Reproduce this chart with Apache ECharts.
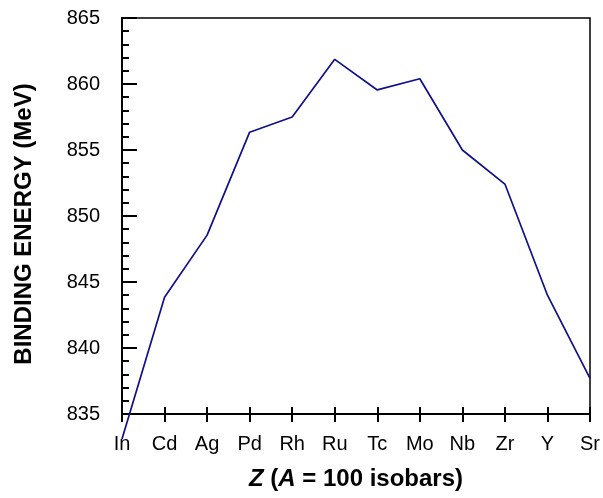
<!DOCTYPE html>
<html>
<head>
<meta charset="utf-8">
<script src="https://cdn.jsdelivr.net/npm/echarts@6/dist/echarts.min.js"></script>
<style>html,body{margin:0;padding:0;background:#fff;}#chart{width:603px;height:498px;}</style>
</head>
<body>
<div id="chart"></div>
<script>
const categories = ['In', 'Cd', 'Ag', 'Pd', 'Rh', 'Ru', 'Tc', 'Mo', 'Nb', 'Zr', 'Y', 'Sr'];
const bindingEnergy = [833.1, 843.85, 848.55, 856.35, 857.5, 861.87, 859.55, 860.4, 855.0, 852.42, 844.0, 837.7];
const yTicks = { min: 835, max: 865, interval: 5 };

const FONT = 'Liberation Sans, Arial, sans-serif';
const chart = echarts.init(document.getElementById('chart'), null, { renderer: 'canvas' });
chart.setOption({
  animation: false,
  backgroundColor: '#fff',
  grid: { left: 122, top: 18, right: 11, bottom: 84, show: true, borderColor: '#000', borderWidth: 1.5, backgroundColor: 'transparent' },
  xAxis: [{
    type: 'category', data: categories, boundaryGap: false, position: 'bottom',
    axisLine: { show: true, lineStyle: { color: '#000', width: 2 } },
    axisTick: { show: true, inside: false, length: 8, lineStyle: { color: '#000', width: 2 } },
    axisLabel: { color: '#000', fontSize: 20, fontFamily: FONT, margin: 20 },
    splitLine: { show: false },
    name: '{bi|Z} ({bi|A} = 100 isobars)', nameLocation: 'middle', nameGap: 53,
    nameTextStyle: { color: '#000', fontSize: 24, fontWeight: 'bold', fontFamily: FONT,
      rich: { bi: { fontSize: 24, fontWeight: 'bold', fontStyle: 'italic', fontFamily: FONT, color: '#000' } } }
  }, {
    type: 'category', data: categories, boundaryGap: false, position: 'bottom', gridIndex: 0,
    axisLine: { show: false },
    axisTick: { show: true, inside: true, length: 7, lineStyle: { color: '#000', width: 2 } },
    axisLabel: { show: false }, splitLine: { show: false }
  }],
  yAxis: {
    type: 'value', min: yTicks.min, max: yTicks.max, interval: yTicks.interval,
    axisLine: { show: true, lineStyle: { color: '#000', width: 2 } },
    axisTick: { show: true, inside: true, length: 15, lineStyle: { color: '#000', width: 2 } },
    minorTick: { show: true, splitNumber: 5, length: 7, lineStyle: { color: '#000', width: 2 } },
    axisLabel: { color: '#000', fontSize: 20, fontFamily: FONT, margin: 22 },
    splitLine: { show: false },
    name: 'BINDING ENERGY (MeV)', nameLocation: 'middle', nameGap: 86, nameRotate: 90,
    nameTextStyle: { color: '#000', fontSize: 24, fontWeight: 'bold', fontFamily: FONT, padding: [0, 16, 0, 0] }
  },
  series: [{
    type: 'line', data: bindingEnergy, xAxisIndex: 0, clip: false,
    showSymbol: false, symbol: 'none',
    lineStyle: { color: '#10108a', width: 1.7 }
  }]
});
</script>
</body>
</html>
